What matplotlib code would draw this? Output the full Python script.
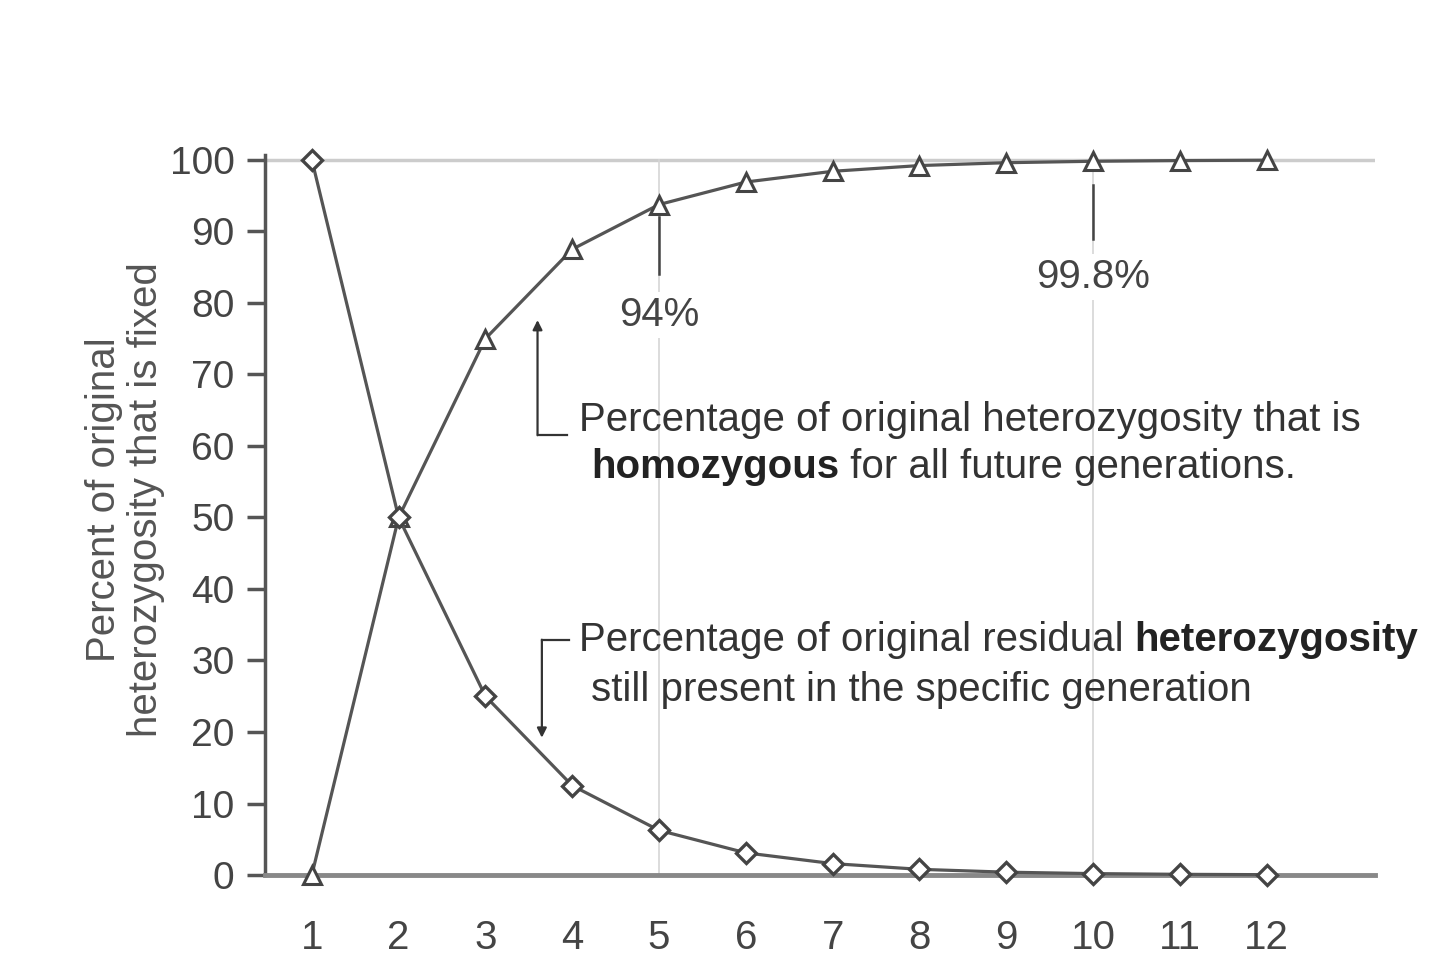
import matplotlib.pyplot as plt

plt.rcParams['font.family'] = ['Liberation Sans', 'DejaVu Sans']

generation = [1, 2, 3, 4, 5, 6, 7, 8, 9, 10, 11, 12]
homozygous = [0, 50, 75, 87.5, 93.75, 96.9, 98.4, 99.2, 99.6, 99.8, 99.9, 99.95]
heterozygous = [100, 50, 25, 12.5, 6.25, 3.1, 1.6, 0.8, 0.4, 0.2, 0.1, 0.05]
marked_gen = [5, 10]
marked_label = ['94%', '99.8%']

line_c = '#555555'
text_c = '#333333'

fig = plt.figure(figsize=(14.4, 9.67), dpi=100)
ax = fig.add_axes([0.184, 0.0951, 0.771, 0.747])

# light guide lines
ax.axhline(100, color='#cccccc', lw=2.5, zorder=1)
for g in marked_gen:
    ax.plot([g, g], [0, 100], color='#d5d5d5', lw=1.2, zorder=1)

ax.plot(generation, homozygous, color=line_c, lw=2.3, marker='^', ms=13,
        mfc='white', mec='#444444', mew=2.2, zorder=4, clip_on=False)
ax.plot(generation, heterozygous, color=line_c, lw=2.3, marker='D', ms=10,
        mfc='white', mec='#444444', mew=2.4, zorder=4, clip_on=False)

# callouts for 94% and 99.8%
ax.plot([5, 5], [84, 92], color='#444444', lw=1.8, zorder=2)
ax.plot([10, 10], [89, 96.5], color='#444444', lw=1.8, zorder=2)
ax.text(5, 78.3, marked_label[0], ha='center', va='center', fontsize=29,
        color='#444444', bbox=dict(fc='white', ec='none', pad=3), zorder=2)
ax.text(10, 83.6, marked_label[1], ha='center', va='center', fontsize=29,
        color='#444444', bbox=dict(fc='white', ec='none', pad=3), zorder=2)

# bracket arrows
ax.plot([3.6, 3.94], [61.5, 61.5], color=text_c, lw=1.6)
ax.annotate('', xy=(3.6, 77.6), xytext=(3.6, 61.5),
            arrowprops=dict(arrowstyle='-|>', color=text_c, lw=1.6,
                            mutation_scale=14, shrinkA=0, shrinkB=0))
ax.plot([3.65, 3.96], [32.9, 32.9], color=text_c, lw=1.6)
ax.annotate('', xy=(3.65, 19.2), xytext=(3.65, 32.9),
            arrowprops=dict(arrowstyle='-|>', color=text_c, lw=1.6,
                            mutation_scale=14, shrinkA=0, shrinkB=0))

fs = 29
ax.text(4.077, 63.6, 'Percentage of original heterozygosity that is',
        fontsize=fs, color=text_c, va='center', ha='left')
t = ax.text(4.215, 57.1, 'homozygous', fontsize=fs, fontweight='bold',
            color='#222222', va='center', ha='left')
ax.annotate(' for all future generations.', xy=(1, 0), xycoords=t,
            fontsize=fs, color=text_c, va='bottom', ha='left')

t = ax.text(4.077, 32.9, 'Percentage of original residual ', fontsize=fs,
            color=text_c, va='center', ha='left')
ax.annotate('heterozygosity', xy=(1, 0), xycoords=t, fontsize=fs,
            fontweight='bold', color='#222222', va='bottom', ha='left')
ax.text(4.215, 25.9, 'still present in the specific generation',
        fontsize=fs, color=text_c, va='center', ha='left')

ax.set_xlim(0.46, 13.25)
ax.set_ylim(0, 101)
ax.set_xticks(generation)
ax.set_yticks(range(0, 101, 10))
ax.tick_params(axis='x', length=0, pad=32, labelsize=29, labelcolor='#444444')
ax.tick_params(axis='y', length=13, width=2.5, color=line_c, pad=9,
               labelsize=28, labelcolor='#444444')

for s in ['top', 'right']:
    ax.spines[s].set_visible(False)
ax.spines['left'].set_color('#555555')
ax.spines['left'].set_linewidth(2.5)
ax.spines['bottom'].set_color('#888888')
ax.spines['bottom'].set_linewidth(3.5)
ax.spines['left'].set_bounds(0, 100.7)

ax.set_ylabel('Percent of original\nheterozygosity that is fixed', fontsize=29,
              color='#555555', linespacing=1.15)
ax.yaxis.set_label_coords(-0.09, 0.52)

fig.savefig('out.png', dpi=100)
